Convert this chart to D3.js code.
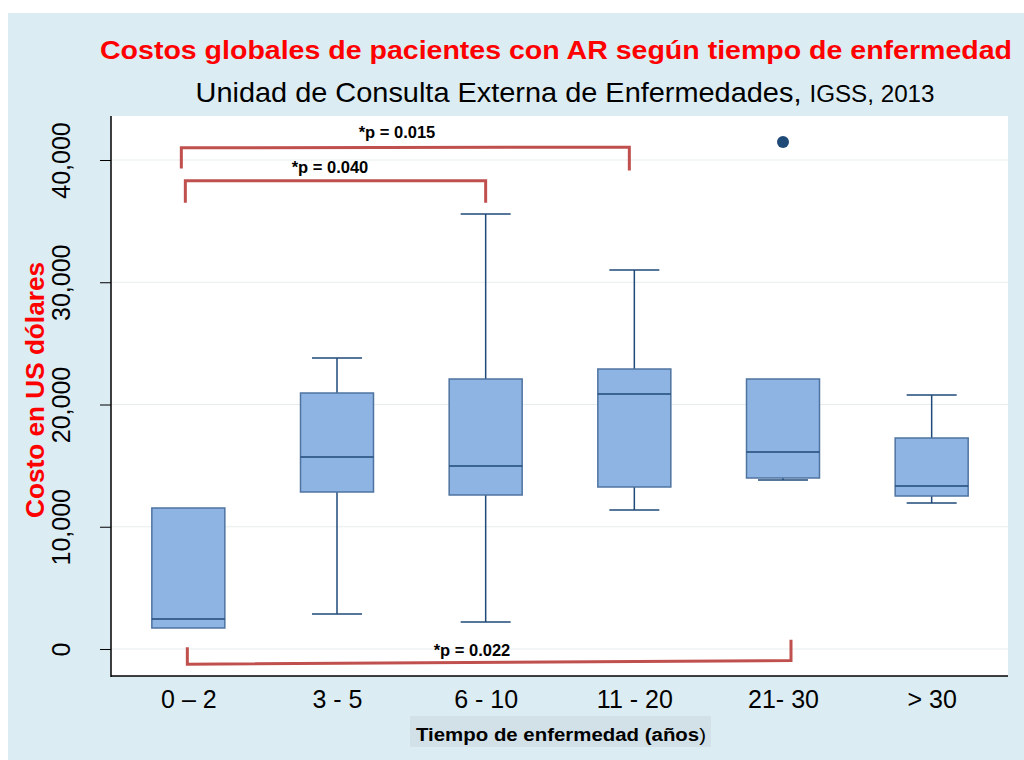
<!DOCTYPE html>
<html>
<head>
<meta charset="utf-8">
<script src="https://cdn.jsdelivr.net/npm/d3@7"></script>
<style>
body{margin:0;background:#fff;}
text{font-family:"Liberation Sans",Arial,sans-serif;}
</style>
</head>
<body>
<svg id="chart" width="1024" height="760"></svg>
<script>
// datos
var categorias = ["0 \u2013 2","3 - 5","6 - 10","11 - 20","21- 30","> 30"];
var minimos  = [1718, 2863, 2209, 11370, 13824, 11943];
var q1       = [1718, 12843, 12597, 13252, 13988, 12515];
var medianas = [2454, 15706, 14969, 20859, 16115, 13333];
var q3       = [11534, 20941, 22086, 22904, 22086, 17260];
var maximos  = [11534, 23804, 35583, 31002, 22086, 20777];
var atipicos = [{cat:"21- 30", v:41472}];
var yTicks = [0, 10000, 20000, 30000, 40000];
// comparaciones (cat inicial, cat final, nivel, fin de patas, texto)
var pruebas = [
	{a:0, b:3, nivelA:41000, nivelB:41050, pataA:39300, pataB:39150, txt:"*p = 0.015", ty:41800},
	{a:0, b:2, nivelA:38300, nivelB:38300, pataA:36500, pataB:36500, txt:"*p = 0.040", ty:38950},
	{a:0, b:4, nivelA:-1250, nivelB:-950, pataA:150, pataB:750, txt:"*p = 0.022", ty:-570}
];

var svg = d3.select("#chart");
svg.append("rect").attr("x",8).attr("y",13).attr("width",1016).attr("height",747).attr("fill","#dbecf3");

var L=111, R=1008, T=116, B=676;
svg.append("rect").attr("x",L).attr("y",T).attr("width",R-L).attr("height",B-T).attr("fill","#fff");

var y = d3.scaleLinear().domain([-2209, 43600]).range([B, T]);
var x = d3.scalePoint().domain(categorias).range([114, 1006]).padding(0.5);
var bw = 73, cw = 50;

// lineas de rejilla
svg.selectAll(".grid").data(yTicks).enter().append("line")
	.attr("x1",L).attr("x2",R).attr("y1",d=>y(d)).attr("y2",d=>y(d))
	.attr("stroke","#e6eded").attr("stroke-width",1);

// eje y
var gy = svg.append("g").attr("transform","translate("+L+",0)")
	.call(d3.axisLeft(y).tickValues(yTicks).tickSize(11).tickFormat(d3.format(",")));
gy.select(".domain").remove();
gy.selectAll(".tick line").attr("stroke","#000");
gy.selectAll(".tick text")
	.attr("transform","rotate(-90)")
	.attr("x",0).attr("y",-50).attr("dy","0.35em")
	.attr("text-anchor","middle")
	.style("font-size","25px").style("font-family","Liberation Sans, Arial").attr("fill","#000");

// eje x
var gx = svg.append("g").attr("transform","translate(0,"+B+")")
	.call(d3.axisBottom(x).tickSize(0).tickPadding(14));
gx.select(".domain").remove();
gx.selectAll(".tick text").style("font-size","25px").style("font-family","Liberation Sans, Arial").attr("fill","#000");

svg.append("line").attr("x1",L).attr("x2",L).attr("y1",T).attr("y2",B+1).attr("stroke","#000").attr("stroke-width",1.5);
svg.append("line").attr("x1",L).attr("x2",R).attr("y1",B).attr("y2",B).attr("stroke","#000").attr("stroke-width",1.5);

// cajas
var navy = "#1f4a78";
var cajas = svg.append("g");
categorias.forEach(function(c,i){
	var cx = x(c);
	var g = cajas.append("g");
	g.append("line").attr("x1",cx).attr("x2",cx).attr("y1",y(maximos[i])).attr("y2",y(q3[i])).attr("stroke",navy).attr("stroke-width",1.5);
	g.append("line").attr("x1",cx).attr("x2",cx).attr("y1",y(q1[i])).attr("y2",y(minimos[i])).attr("stroke",navy).attr("stroke-width",1.5);
	if(maximos[i]>q3[i])
		g.append("line").attr("x1",cx-cw/2).attr("x2",cx+cw/2).attr("y1",y(maximos[i])).attr("y2",y(maximos[i])).attr("stroke",navy).attr("stroke-width",1.5);
	if(minimos[i]<q1[i])
		g.append("line").attr("x1",cx-cw/2).attr("x2",cx+cw/2).attr("y1",y(minimos[i])).attr("y2",y(minimos[i])).attr("stroke",navy).attr("stroke-width",1.5);
	g.append("rect").attr("x",cx-bw/2).attr("y",y(q3[i])).attr("width",bw).attr("height",y(q1[i])-y(q3[i]))
		.attr("fill","#8eb4e3").attr("stroke","#4f73a0").attr("stroke-width",1.5);
	g.append("line").attr("x1",cx-bw/2).attr("x2",cx+bw/2).attr("y1",y(medianas[i])).attr("y2",y(medianas[i])).attr("stroke",navy).attr("stroke-width",1.5);
});
svg.selectAll(".out").data(atipicos).enter().append("circle")
	.attr("cx",d=>x(d.cat)).attr("cy",d=>y(d.v)).attr("r",6).attr("fill",navy);

// corchetes de significancia (ajuste fino de los extremos)
var rojo = "#c0504d";
var desplA = [-7,-3,-1], desplB = [-5,0,8];
pruebas.forEach(function(p,i){
	var xa = x(categorias[p.a])+desplA[i], xb = x(categorias[p.b])+desplB[i];
	svg.append("path")
		.attr("d","M"+xa+","+y(p.pataA)+"L"+xa+","+y(p.nivelA)+"L"+xb+","+y(p.nivelB)+"L"+xb+","+y(p.pataB))
		.attr("fill","none").attr("stroke",rojo).attr("stroke-width",3);
});
svg.selectAll(".ptxt").data(pruebas).enter().append("text")
	.attr("x",(d,i)=>[397,330,472][i]).attr("y",d=>y(d.ty))
	.attr("text-anchor","middle").style("font-size","16.5px").style("font-weight","bold")
	.text(d=>d.txt);

// titulos
svg.append("text").attr("x",556).attr("y",59).attr("text-anchor","middle")
	.attr("textLength",912).attr("lengthAdjust","spacingAndGlyphs")
	.style("font-size","26.5px").style("font-weight","bold").attr("fill","#ff0000")
	.text("Costos globales de pacientes con AR seg\u00fan tiempo de enfermedad");
var sub = svg.append("text").attr("x",565).attr("y",102).attr("text-anchor","middle")
	.attr("textLength",739).attr("lengthAdjust","spacingAndGlyphs")
	.style("font-size","27.5px").attr("fill","#000");
sub.append("tspan").text("Unidad de Consulta Externa de Enfermedades, ");
sub.append("tspan").style("font-size","23px").text("IGSS, 2013");

svg.append("text").attr("transform","translate(44,390) rotate(-90)").attr("text-anchor","middle")
	.attr("textLength",256).attr("lengthAdjust","spacingAndGlyphs")
	.style("font-size","25px").style("font-weight","bold").attr("fill","#ff0000")
	.text("Costo en US d\u00f3lares");

svg.append("rect").attr("x",410).attr("y",716).attr("width",301).attr("height",31).attr("fill","#d2e1e8");
var xt = svg.append("text").attr("x",561).attr("y",741).attr("text-anchor","middle")
	.attr("textLength",290).attr("lengthAdjust","spacingAndGlyphs")
	.style("font-size","18px").style("font-weight","bold");
xt.append("tspan").text("Tiempo de enfermedad (a\u00f1os");
xt.append("tspan").style("font-weight","normal").text(")");
</script>
</body>
</html>
